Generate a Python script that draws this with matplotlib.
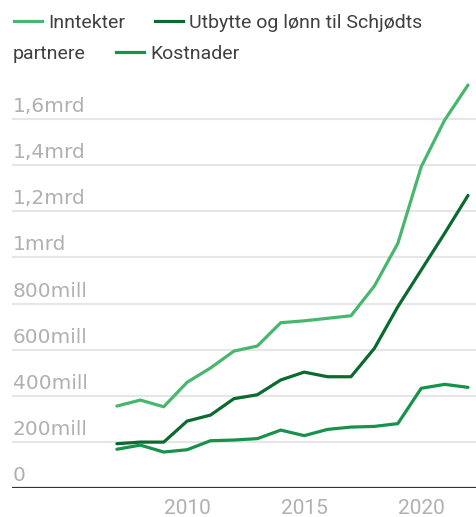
import matplotlib
matplotlib.use("Agg")
import matplotlib.pyplot as plt
from matplotlib.lines import Line2D

plt.rcParams["font.family"] = ["Roboto", "DejaVu Sans"]

# values in millions NOK
years = list(range(2007, 2023))
inntekter = [356, 382, 353, 459, 521, 594, 616, 717, 725, 736, 747, 876, 1060, 1392, 1594, 1746]
utbytte = [193, 200, 200, 291, 317, 388, 405, 469, 503, 483, 483, 606, 786, 945, 1104, 1268]
kostnader = [169, 187, 157, 167, 206, 209, 215, 252, 228, 255, 265, 268, 280, 433, 450, 437]

ytick_vals = [0, 200, 400, 600, 800, 1000, 1200, 1400, 1600]
ytick_labels = ["0", "200mill", "400mill", "600mill", "800mill", "1mrd", "1,2mrd", "1,4mrd", "1,6mrd"]
xtick_vals = [2010, 2015, 2020]

C_LIGHT = "#48b76e"
C_DARK = "#0b6a2d"
C_MID = "#17924b"
GRAY = "#b0b0b0"
INK = "#404040"

W, H = 476, 517
fig = plt.figure(figsize=(W / 100, H / 100), dpi=100)
ax = fig.add_axes([12 / W, (H - 488.3) / H, 464 / W, 418.3 / H])

ax.plot(years, inntekter, color=C_LIGHT, lw=2.3, solid_capstyle="round", zorder=3)
ax.plot(years, utbytte, color=C_DARK, lw=2.3, solid_capstyle="round", zorder=3)
ax.plot(years, kostnader, color=C_MID, lw=2.3, solid_capstyle="round", zorder=3)

ax.set_xlim(2002.52, 2022.34)
ax.set_ylim(0, 1811)

for v in ytick_vals[1:]:
    ax.axhline(v, color="#e6e6e6", lw=1.5, zorder=1)
ax.axhline(0, color="#333333", lw=1.6, zorder=2)

# y labels sit above their gridlines, flush left
for v, lab in zip(ytick_vals, ytick_labels):
    ax.annotate(lab, xy=(0, v), xycoords=("axes fraction", "data"),
                xytext=(0.5, 5), textcoords="offset points",
                ha="left", va="baseline", fontsize=14.5, color=GRAY,
                family="DejaVu Sans")

ax.set_yticks([])
ax.set_xticks(xtick_vals)
ax.set_xticklabels([str(x) for x in xtick_vals], fontsize=15, color=GRAY)
ax.tick_params(axis="x", length=0, pad=8)
for s in ax.spines.values():
    s.set_visible(False)

# wrapped legend at the top, laid out like the original web legend
def fx(px):
    return px / W

def fy(py):
    return 1 - py / H

legend_items = [
    (14, 21, C_LIGHT, "Inntekter"),
    (155, 21, C_DARK, "Utbytte og lønn til Schjødts"),
    (116, 52, C_MID, "Kostnader"),
]
for x0, yc, col, lab in legend_items:
    fig.add_artist(Line2D([fx(x0), fx(x0 + 28)], [fy(yc), fy(yc)], color=col, lw=2.3,
                          transform=fig.transFigure))
    fig.text(fx(x0 + 34), fy(yc), lab, fontsize=14, color=INK, ha="left", va="center_baseline")
fig.text(fx(13), fy(52), "partnere", fontsize=14, color=INK, ha="left", va="center_baseline")

fig.savefig("out.png", dpi=100, facecolor="white")
